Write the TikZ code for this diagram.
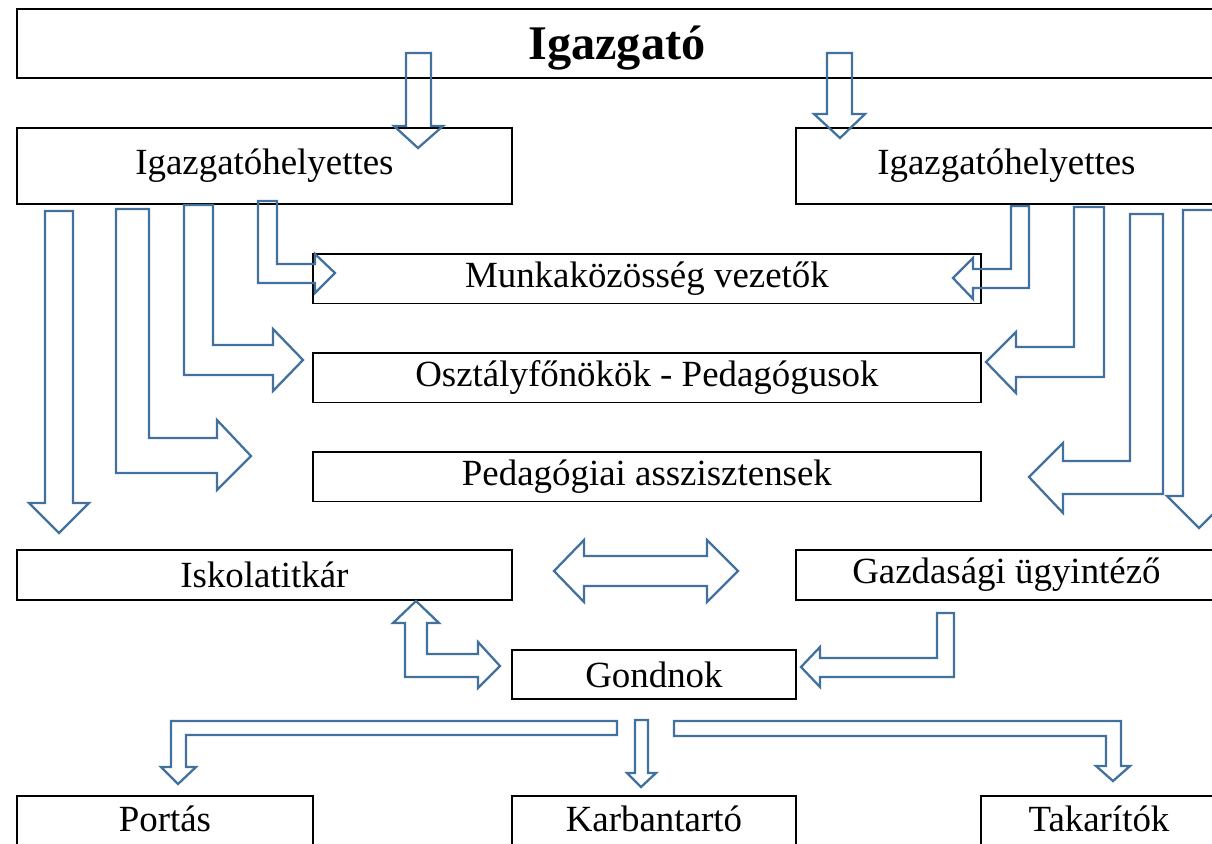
\documentclass[tikz,border=0pt]{standalone}
\usepackage{fontspec}
\setmainfont{Liberation Serif}
\definecolor{arrowblue}{RGB}{65,113,156}
\tikzset{
  box/.style={draw, line width=1.1pt, inner sep=0pt, anchor=north west},
  barrow/.style={draw=arrowblue, line width=1.3pt, line join=miter}
}
\begin{document}
\begin{tikzpicture}[x=0.02cm, y=-0.02cm, font=\fontsize{21}{25}\selectfont]
        \useasboundingbox (0,0) rectangle (1212,843);
        \clip (0,0) rectangle (1212,843);
        \node (igazgato) at (16, 8)[box, minimum width=24cm, minimum height=1.38cm]{\raisebox{-0.1cm}[\height][\depth]{\fontsize{27.5}{30}\selectfont\bfseries Igazgató}};
        \node (helyettesA) at (16, 127)[box, minimum width=9.9cm, minimum height=1.52cm]{Igazgatóhelyettes};
        \node (helyettesB) at (795, 127)[box, minimum width=8.42cm, minimum height=1.52cm]{Igazgatóhelyettes};
        \foreach \y/\n/\t in {253/munka/Munkaközösség vezetők, 352/osztaly/Osztályfőnökök - Pedagógusok, 451/asszisztens/Pedagógiai asszisztensek}{
            \node (\n) at (312, \y)[box, minimum width=13.36cm, minimum height=0.99cm]{\t};
        }
        \node (titkar) at (16, 549)[box, minimum width=9.9cm, minimum height=1cm]{Iskolatitkár};
        \node (gazdasagi) at (795, 549)[box, minimum width=8.42cm, minimum height=1cm]{Gazdasági ügyintéző};
        \node (gondnok) at (511, 649)[box, minimum width=5.68cm, minimum height=0.98cm]{Gondnok};
        \foreach \x/\w/\n/\t in {16/5.92/portas/Portás, 511/5.68/karbantarto/Karbantartó, 980/4.72/takarito/Takarítók}{
            \node (\n) at (\x, 795)[box, minimum width=\w cm, text height=0.72cm, text depth=1cm]{\t};
        }
        \draw[barrow] (406,53) -- (431,53) -- (431,126) -- (443,126) -- (418,148) -- (394,126) -- (406,126) -- cycle;
        \draw[barrow] (827,53) -- (852,53) -- (852,114) -- (865,114) -- (840,138) -- (814,114) -- (827,114) -- cycle;
        \draw[barrow] (45,211) -- (73,211) -- (73,503) -- (89,503) -- (59,533) -- (29,503) -- (45,503) -- cycle;
        \draw[barrow] (116,209) -- (149,209) -- (149,438) -- (217,438) -- (217,420) -- (251,456) -- (217,490) -- (217,473) -- (116,473) -- cycle;
        \draw[barrow] (184,205) -- (213,205) -- (213,345) -- (273,345) -- (273,329) -- (303,360) -- (273,391) -- (273,375) -- (184,375) -- cycle;
        \draw[barrow] (258,201) -- (277,201) -- (277,264) -- (315,264) -- (315,254) -- (335,273) -- (315,293) -- (315,283) -- (258,283) -- cycle;
        \draw[barrow] (1029,206) -- (1011,206) -- (1011,269) -- (973,269) -- (973,258) -- (953,278) -- (973,299) -- (973,288) -- (1029,288) -- cycle;
        \draw[barrow] (1104,207) -- (1074,207) -- (1074,347) -- (1016,347) -- (1016,332) -- (986,362) -- (1016,393) -- (1016,377) -- (1104,377) -- cycle;
        \draw[barrow] (1163,214) -- (1130,214) -- (1130,461) -- (1063,461) -- (1063,443) -- (1029,477) -- (1063,513) -- (1063,494) -- (1163,494) -- cycle;
        \draw[barrow] (1183,210) -- (1215,210) -- (1215,496) -- (1231,496) -- (1199,528) -- (1167,496) -- (1183,496) -- cycle;
        \draw[barrow] (554,571) -- (584,540) -- (584,556) -- (707,556) -- (707,540) -- (738,571) -- (707,602) -- (707,586) -- (584,586) -- (584,602) -- cycle;
        \draw[barrow] (416,601) -- (439,623) -- (427,623) -- (427,654) -- (478,654) -- (478,642) -- (500,666) -- (478,688) -- (478,677) -- (405,677) -- (405,623) -- (393,623) -- cycle;
        \draw[barrow] (954,613) -- (937,613) -- (937,658) -- (820,658) -- (820,647) -- (801,667) -- (820,687) -- (820,677) -- (954,677) -- cycle;
        \draw[barrow] (635,720) -- (648,720) -- (648,773) -- (656,773) -- (641,787) -- (627,773) -- (635,773) -- cycle;
        \draw[barrow] (617,721) -- (617,735) -- (186,735) -- (186,767) -- (196,767) -- (178,784) -- (161,767) -- (171,767) -- (171,721) -- cycle;
        \draw[barrow] (674,721) -- (1121,721) -- (1121,766) -- (1130,766) -- (1113,781) -- (1096,766) -- (1106,766) -- (1106,736) -- (674,736) -- cycle;
    \end{tikzpicture}
\end{document}
